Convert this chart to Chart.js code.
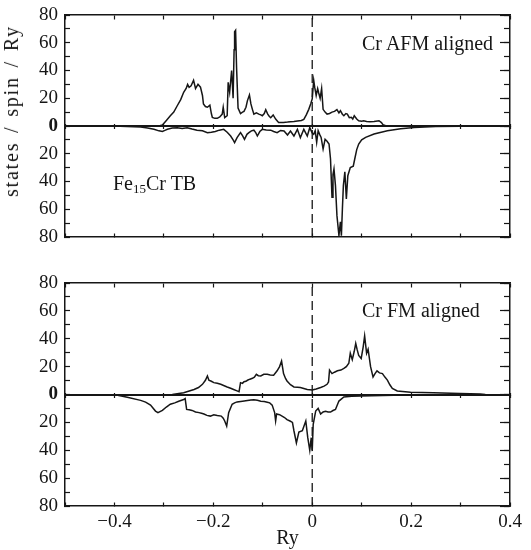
<!DOCTYPE html>
<html>
<head>
<meta charset="utf-8">
<script src="https://cdn.jsdelivr.net/npm/chart.js@4.4.0/dist/chart.umd.min.js"></script>
<style>
  body { margin: 0; background: #fff; }
  #fig { position: relative; width: 531px; height: 550px; font-family: 'Liberation Serif', serif; color: #161616; }
  #fig canvas { position: absolute; left: 0; }
  .note { position: absolute; font-size: 20px; line-height: 20px; white-space: nowrap; }
  .note sub { font-size: 13px; line-height: 0; vertical-align: -3px; }
  #ytitle { position: absolute; left: 11px; top: 111px; font-size: 20px; line-height: 20px; white-space: nowrap;
            letter-spacing: 1.8px; word-spacing: 2px; transform: translate(-50%, -50%) rotate(-90deg); }
</style>
</head>
<body>
<div id="fig">
  <canvas id="afm" width="531" height="250" style="top:0"></canvas>
  <canvas id="fm" width="531" height="300" style="top:250px"></canvas>
  <div class="note" style="left:362px; top:33px">Cr AFM aligned</div>
  <div class="note" style="left:113px; top:173px">Fe<sub>15</sub>Cr TB</div>
  <div class="note" style="left:362px; top:300px">Cr FM aligned</div>
  <div id="ytitle">states / spin / Ry</div>
</div>
<script>
var INK = '#161616';
var SERIF = "'Liberation Serif', 'Times New Roman', serif";

// energies (Ry) where the x axis carries a label, and the state axis labels
var xLabelled = [-0.4, -0.2, 0, 0.2, 0.4];
var yLabelled = [-80, -60, -40, -20, 0, 20, 40, 60, 80];

// Fermi level marker
var fermiX = [0, 0];
var fermiY = [-80, 80];

// Cr AFM aligned, majority spin
var afmUpX = [-0.310, -0.303, -0.295, -0.287, -0.280, -0.273, -0.266, -0.260, -0.255, -0.252,
  -0.249, -0.245, -0.240, -0.236, -0.231, -0.226, -0.222, -0.220, -0.216, -0.212,
  -0.207, -0.204, -0.202, -0.197, -0.192, -0.187, -0.182, -0.180, -0.177, -0.172,
  -0.170, -0.167, -0.163, -0.160, -0.158, -0.157, -0.155, -0.153, -0.150, -0.145,
  -0.141, -0.138, -0.134, -0.131, -0.127, -0.124, -0.121, -0.118, -0.113, -0.108,
  -0.104, -0.101, -0.097, -0.094, -0.090, -0.087, -0.084, -0.079, -0.074, -0.068,
  -0.058, -0.050, -0.044, -0.037, -0.030, -0.022, -0.017, -0.012, -0.007, -0.003,
  0.000, 0.003, 0.005, 0.008, 0.011, 0.013, 0.016, 0.019, 0.022, 0.026,
  0.030, 0.035, 0.040, 0.045, 0.050, 0.054, 0.057, 0.061, 0.064, 0.068,
  0.071, 0.075, 0.079, 0.082, 0.085, 0.090, 0.094, 0.100, 0.104, 0.110,
  0.117, 0.125, 0.135, 0.140, 0.143, 0.150];
var afmUp = [0, 0.7, 4, 7.4, 10, 14.6, 19, 24.3, 27, 30,
  27.9, 29, 33, 27, 30, 28, 22, 15.9, 14, 13.5,
  15, 9, 6.2, 5.5, 5.5, 6.5, 8.6, 13.5, 6, 7.4,
  31.5, 24.3, 40, 20, 55, 68, 69, 42, 13, 9,
  10, 10.5, 13.5, 18.3, 22.3, 15.9, 12, 8.6, 9.5, 8.6,
  8, 7.4, 9, 11.8, 8.6, 7, 6, 8, 5, 2.6,
  2.6, 2.8, 3, 3.2, 3.6, 4, 4.8, 8, 12, 16,
  19.5, 33, 28, 22, 27, 24, 20, 27, 12, 10,
  8.6, 9, 10, 10.5, 11.8, 9.5, 11, 8.5, 7.4, 9,
  8.6, 6, 6.3, 5, 7.4, 5, 3.8, 3.5, 3.8, 3.2,
  3, 3.2, 3.8, 2.5, 1, 0];

// Cr AFM aligned, minority spin (drawn downwards)
var afmDownX = [-0.402, -0.375, -0.347, -0.333, -0.320, -0.310, -0.303, -0.298, -0.293, -0.283,
  -0.273, -0.263, -0.253, -0.243, -0.233, -0.222, -0.212, -0.204, -0.196, -0.188,
  -0.179, -0.172, -0.165, -0.160, -0.157, -0.152, -0.145, -0.141, -0.137, -0.132,
  -0.128, -0.123, -0.118, -0.114, -0.111, -0.106, -0.101, -0.093, -0.084, -0.078,
  -0.071, -0.064, -0.057, -0.050, -0.044, -0.037, -0.030, -0.024, -0.017, -0.010,
  -0.005, 0.000, 0.003, 0.006, 0.009, 0.012, 0.015, 0.018, 0.022, 0.026,
  0.030, 0.034, 0.037, 0.040, 0.042, 0.044, 0.047, 0.050, 0.054, 0.057,
  0.059, 0.061, 0.063, 0.066, 0.069, 0.072, 0.077, 0.083, 0.086, 0.090,
  0.094, 0.100, 0.108, 0.125, 0.152, 0.179, 0.206, 0.250, 0.300, 0.350];
var afmDown = [0, -0.3, -0.7, -1.5, -2.4, -3.5, -4, -3.2, -2.4, -1.5,
  -1.2, -1.8, -1.2, -2.2, -3, -3.5, -4.8, -4.5, -4, -3,
  -2.4, -4.5, -7.2, -10, -12, -8.4, -4.8, -7, -9.6, -6,
  -4.8, -3.5, -3, -5, -7.2, -4, -2.4, -2.8, -3, -4,
  -4.8, -3.2, -3.6, -6.5, -3.6, -7.2, -2.4, -8.4, -2.4, -7.2,
  -1.2, -5, -6, -3.4, -11.8, -3.4, -6, -8.2, -16.6, -9.6,
  -11, -13, -23.8, -51.4, -35, -31, -43, -64.6, -79, -69,
  -79, -60, -43, -33, -52.6, -35.8, -30, -29, -23.8, -17,
  -13, -10, -8.2, -5.8, -3.4, -2, -1, -0.4, -0.1, 0];

// Cr FM aligned, majority spin
var fmUpX = [-0.283, -0.260, -0.239, -0.230, -0.222, -0.216, -0.212, -0.209, -0.204, -0.199,
  -0.192, -0.185, -0.178, -0.172, -0.165, -0.159, -0.152, -0.148, -0.145, -0.141,
  -0.138, -0.134, -0.131, -0.126, -0.121, -0.117, -0.113, -0.109, -0.104, -0.098,
  -0.091, -0.085, -0.078, -0.071, -0.066, -0.062, -0.058, -0.054, -0.051, -0.044,
  -0.037, -0.030, -0.024, -0.017, -0.010, 0.000, 0.008, 0.017, 0.024, 0.030,
  0.033, 0.035, 0.040, 0.045, 0.051, 0.058, 0.064, 0.069, 0.074, 0.077,
  0.081, 0.085, 0.088, 0.091, 0.094, 0.099, 0.103, 0.106, 0.110, 0.113,
  0.118, 0.123, 0.127, 0.131, 0.136, 0.142, 0.147, 0.152, 0.157, 0.162,
  0.172, 0.199, 0.245, 0.299, 0.340, 0.350];
var fmUp = [0, 1.2, 3.6, 5, 7.3, 10.2, 13.3, 10.2, 9.5, 8.5,
  8, 7.3, 6.3, 5.4, 4.5, 3.6, 2.6, 2, 8.5, 8,
  9.2, 9.5, 10.2, 11, 11.6, 12.5, 14.5, 13.5, 13.3, 14.5,
  14.5, 14, 13.8, 17, 20, 24, 15, 11.5, 9.7, 7,
  5.4, 5.2, 5, 4.3, 3.6, 3.2, 4, 5, 6, 7.3,
  9, 17.5, 15, 16, 17, 17.5, 18.7, 20, 22.4, 29.6,
  25, 31, 36.6, 32, 28, 25.8, 34, 42, 29.6, 32.5,
  20, 12.6, 15, 17, 15.5, 15, 12.5, 10.3, 7, 4.3,
  2.5, 1.6, 1.2, 0.7, 0.3, 0];

// Cr FM aligned, minority spin (drawn downwards)
var fmDownX = [-0.401, -0.374, -0.347, -0.337, -0.327, -0.317, -0.312, -0.303, -0.295, -0.287,
  -0.278, -0.270, -0.260, -0.257, -0.254, -0.249, -0.243, -0.236, -0.229, -0.224,
  -0.219, -0.213, -0.206, -0.199, -0.192, -0.184, -0.180, -0.177, -0.173, -0.169,
  -0.162, -0.157, -0.152, -0.141, -0.131, -0.124, -0.118, -0.111, -0.104, -0.097,
  -0.091, -0.086, -0.081, -0.076, -0.074, -0.072, -0.066, -0.061, -0.056, -0.051,
  -0.045, -0.040, -0.037, -0.032, -0.027, -0.020, -0.013, -0.009, -0.005, -0.002,
  0.000, 0.002, 0.007, 0.012, 0.017, 0.022, 0.027, 0.032, 0.037, 0.042,
  0.047, 0.054, 0.064, 0.080, 0.098, 0.165, 0.250, 0.300];
var fmDown = [0, -1.9, -4.2, -5.5, -7.6, -11.9, -13, -11.4, -9, -7,
  -6, -4.8, -3.6, -2.9, -10.7, -11, -11.4, -12.5, -13, -13.5,
  -14, -15, -15.5, -14.5, -15, -15.5, -17, -19, -22.7, -13,
  -7, -6, -5.3, -4.8, -4.3, -4, -3.8, -4.2, -4.8, -5,
  -5.5, -6, -7.6, -13, -19, -14, -14.5, -15.5, -16.5, -18,
  -19, -20, -26, -34.7, -27, -26, -19, -31, -40, -31,
  -40.6, -21.4, -11.9, -10, -14, -12.5, -12, -12.5, -12.6, -11.5,
  -10.7, -4.7, -1.8, -1.3, -1, -0.5, -0.2, 0];

Chart.defaults.font.family = SERIF;
Chart.defaults.color = INK;

function pts(xs, ys) {
  return xs.map(function(x, i) { return {x: x, y: ys[i]}; });
}

function near(v, list) {
  for (var i = 0; i < list.length; i++) {
    if (Math.abs(v - list[i]) < 1e-6) return true;
  }
  return false;
}

function xLabel(v) {
  if (!near(v, xLabelled)) return '';
  var r = Math.round(v * 10) / 10;
  if (r === 0) return '0';
  return (r < 0 ? '\u2212' : '') + Math.abs(r).toFixed(1);
}

function yLabel(v) {
  return near(v, yLabelled) ? String(Math.abs(v)) : '';
}

// frame edge pinned to a y value: draws the border and the inward tick marks
function edgeX(yVal, len, border) {
  return {
    axis: 'x', type: 'linear', position: { y: yVal }, min: -0.5, max: 0.4,
    ticks: { stepSize: 0.1, display: false, autoSkip: false },
    grid: { drawOnChartArea: false, tickLength: len, tickColor: INK, tickWidth: 1.2 },
    border: { display: border > 0, color: INK, width: border || 1 }
  };
}

// frame edge pinned to an x value
function edgeY(xVal, step, len, border) {
  return {
    axis: 'y', type: 'linear', position: { x: xVal }, min: -80, max: 80,
    ticks: { stepSize: step, display: false, autoSkip: false },
    grid: { drawOnChartArea: false, tickLength: len, tickColor: INK, tickWidth: 1.2 },
    border: { display: border > 0, color: INK, width: border || 1 }
  };
}

function makePanel(id, up, down, withLabels, padTop, xHeight) {
  var line = { xAxisID: 'x', yAxisID: 'y', showLine: true, borderColor: INK, borderWidth: 1.5,
               pointRadius: 0, tension: 0, fill: false };
  var scales = {
    x: {
      type: 'linear', position: 'bottom', min: -0.5, max: 0.4,
      ticks: { stepSize: 0.1, display: withLabels, autoSkip: false, maxRotation: 0, padding: 5,
               color: INK, font: { size: 19 }, callback: xLabel },
      grid: { display: false, drawTicks: false },
      border: { display: false },
      title: { display: withLabels, text: 'Ry', color: INK, font: { size: 20, lineHeight: 1 },
               padding: { top: 0, bottom: 1 } },
      afterFit: function(s) { s.height = xHeight; }
    },
    y: {
      type: 'linear', position: 'left', min: -80, max: 80,
      ticks: { stepSize: 10, autoSkip: false, padding: 7, color: INK, callback: yLabel,
               font: function(ctx) { return { size: 19, weight: ctx.tick && ctx.tick.value === 0 ? 'bold' : 'normal' }; } },
      grid: { display: false, drawTicks: false },
      border: { display: false },
      afterFit: function(s) { s.width = 65; s.paddingTop = 0; s.paddingBottom = 0; }
    },
    frameB: edgeX(-80, -4, 1.5),
    frameT: edgeX(80, 4, 1.5),
    zeroU: edgeX(0, -3, 2),
    zeroD: edgeX(0, 3, 0),
    frameL: edgeY(-0.5, 10, -6, 1.5),
    frameR: edgeY(0.4, 10, 5, 1.5),
    frameR2: edgeY(0.4, 20, 10, 0)
  };
  return new Chart(document.getElementById(id), {
    type: 'scatter',
    data: {
      datasets: [
        Object.assign({ data: pts(up[0], up[1]) }, line),
        Object.assign({ data: pts(down[0], down[1]) }, line),
        Object.assign({ data: pts(fermiX, fermiY) }, line, { borderWidth: 1.3, borderDash: [9, 5] })
      ]
    },
    options: {
      responsive: false,
      animation: false,
      events: [],
      layout: { padding: { top: padTop, left: 0, right: 21, bottom: 0 } },
      plugins: { legend: { display: false }, tooltip: { enabled: false } },
      scales: scales
    }
  });
}

makePanel('afm', [afmUpX, afmUp], [afmDownX, afmDown], false, 15, 13);
makePanel('fm', [fmUpX, fmUp], [fmDownX, fmDown], true, 33, 44);
</script>
</body>
</html>
